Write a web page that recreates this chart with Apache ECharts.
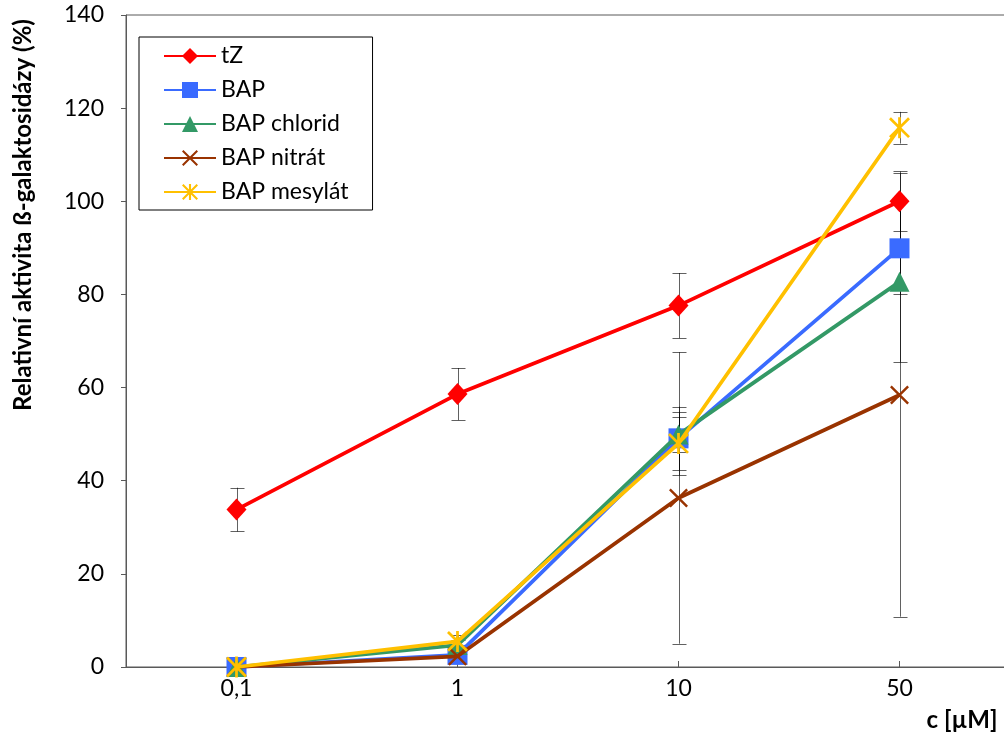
<!DOCTYPE html>
<html><head><meta charset="utf-8">
<script src="https://cdn.jsdelivr.net/npm/echarts@6/dist/echarts.min.js"></script>
<style>html,body{margin:0;padding:0;background:#fff;overflow:hidden}#c{width:1010px;height:738px}</style>
</head><body><div id="c"></div>
<script>
const categories = ['0,1', '1', '10', '50'];
const seriesNames = ['tZ', 'BAP', 'BAP chlorid', 'BAP nitrát', 'BAP mesylát'];
const tZ = [33.8, 58.6, 77.6, 100];
const BAP = [0, 2.6, 49.1, 89.9];
const BAPchlorid = [0, 4.7, 49.9, 82.7];
const BAPnitrat = [0, 2.3, 36.3, 58.4];
const BAPmesylat = [0, 5.5, 48.0, 115.8];
const errTZ = [4.7, 5.6, 7.0, 6.4];
const errBAP = [0, 1.0, 6.8, 9.9];
const errChlorid = [0, 1.0, 3.8, 17.2];
const errNitrat = [0, 0.6, 31.3, 47.6];
const errMesylat = [0, 1.4, 6.8, 3.4];
const yTicks = [0, 20, 40, 60, 80, 100, 120, 140];

const values = [tZ, BAP, BAPchlorid, BAPnitrat, BAPmesylat];
const errors = [errTZ, errBAP, errChlorid, errNitrat, errMesylat];
const colors = ['#FF0000', '#3A6BFF', '#339966', '#993300', '#FFC000'];

function bar(x1, y1, x2, y2, t) {
  const dx = x2 - x1, dy = y2 - y1, L = Math.hypot(dx, dy);
  const nx = -dy / L * t / 2, ny = dx / L * t / 2;
  return 'M' + (x1 + nx) + ',' + (y1 + ny) + 'L' + (x2 + nx) + ',' + (y2 + ny) +
    'L' + (x2 - nx) + ',' + (y2 - ny) + 'L' + (x1 - nx) + ',' + (y1 - ny) + 'Z';
}
const xPath = 'path://' + bar(0, 0, 100, 100, 14) + bar(100, 0, 0, 100, 14);
const starPath = 'path://' + bar(5, 5, 95, 95, 13) + bar(95, 5, 5, 95, 13) + bar(50, 0, 50, 100, 13);
const symbols = ['diamond', 'rect', 'triangle', xPath, starPath];
const sizes = [[20, 22], 20, 20, 19, 21];

const errData = [];
errors.forEach((arr, s) => arr.forEach((e, i) => {
  if (e > 0) errData.push([i, values[s][i] - e, values[s][i] + e]);
}));

const series = seriesNames.map((n, s) => ({
  name: n, type: 'line', data: values[s], symbol: symbols[s], symbolSize: sizes[s],
  showAllSymbol: true, z: 3 + s,
  lineStyle: { color: colors[s], width: 3.75 },
  itemStyle: { color: colors[s], borderWidth: 0 },
  emphasis: { disabled: true }, animation: false
}));
series.unshift({
  type: 'custom', name: 'err', z: 2, animation: false, silent: true,
  data: errData,
  renderItem: function (params, api) {
    const x = api.value(0);
    const lo = api.coord([x, api.value(1)]);
    const hi = api.coord([x, api.value(2)]);
    const cx = Math.round(lo[0]) + 0.5;
    const st = { stroke: 'rgba(0,0,0,0.62)', lineWidth: 1 };
    return { type: 'group', children: [
      { type: 'line', shape: { x1: cx, y1: lo[1], x2: cx, y2: hi[1] }, style: st },
      { type: 'line', shape: { x1: cx - 7, y1: Math.round(lo[1]) + 0.5, x2: cx + 7, y2: Math.round(lo[1]) + 0.5 }, style: st },
      { type: 'line', shape: { x1: cx - 7, y1: Math.round(hi[1]) + 0.5, x2: cx + 7, y2: Math.round(hi[1]) + 0.5 }, style: st }
    ]};
  }
});

const chart = echarts.init(document.getElementById('c'), null, { renderer: 'canvas' });
const font = 'Lato';
chart.setOption({
  animation: false,
  backgroundColor: '#fff',
  grid: { left: 126, top: 15, right: 0, bottom: 71, show: true, borderColor: '#595959', borderWidth: 1, containLabel: false },
  legend: {
    data: seriesNames, orient: 'vertical', left: 139, top: 37,
    itemWidth: 52, itemHeight: 20, itemGap: 10,
    padding: [7, 24, 6, 24], borderColor: '#000', borderWidth: 1,
    textStyle: { fontFamily: font, fontSize: 23, color: '#000', lineHeight: 24 },
    selectedMode: false
  },
  xAxis: {
    type: 'category', data: categories, boundaryGap: true,
    axisLine: { lineStyle: { color: '#595959', width: 1 } },
    axisTick: { show: true, inside: true, alignWithLabel: true, length: 6, lineStyle: { color: '#595959' } },
    axisLabel: { fontFamily: font, fontSize: 23, color: '#000', margin: 10 },
    splitLine: { show: false }
  },
  yAxis: {
    type: 'value', min: yTicks[0], max: yTicks[yTicks.length - 1], interval: 20,
    axisLine: { show: true, lineStyle: { color: '#595959', width: 1 } },
    axisTick: { show: true, length: 5, lineStyle: { color: '#595959' } },
    axisLabel: { fontFamily: font, fontSize: 23, color: '#000', margin: 22 },
    splitLine: { show: false }
  },
  graphic: [
    { type: 'text', x: 23, y: 215, rotation: Math.PI / 2,
      style: { text: 'Relativní aktivita ß-galaktosidázy (%)', font: 'bold 24px Lato', fill: '#000', textAlign: 'center', textVerticalAlign: 'middle' } },
    { type: 'text', x: 962, y: 720,
      style: { text: 'c [µM]', font: 'bold 24px Lato', fill: '#000', textAlign: 'center', textVerticalAlign: 'middle' } }
  ],
  series: series
});
</script></body></html>
